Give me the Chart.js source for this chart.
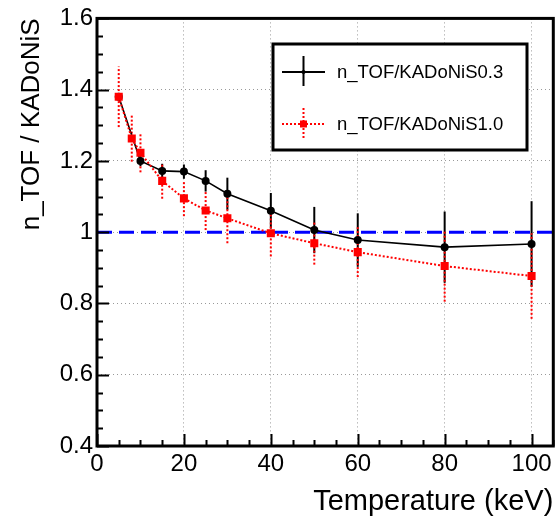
<!DOCTYPE html>
<html>
<head>
<meta charset="utf-8">
<script src="https://cdn.jsdelivr.net/npm/chart.js@4.4.1/dist/chart.umd.min.js"></script>
<style>
  html, body { margin: 0; padding: 0; background: #fff; }
  #wrap { width: 559px; height: 524px; position: relative; }
</style>
</head>
<body>
<div id="wrap"><canvas id="c"></canvas></div>
<script>
'use strict';

// n_TOF / KADoNiS 0.3 ratio and errors, temperature in keV
const KAD03_TEMPS  = [5, 10, 15, 20, 25, 30, 40, 50, 60, 80, 100];
const KAD03_VALUES = [1.38, 1.20, 1.172, 1.17, 1.144, 1.108, 1.06, 1.006, 0.978, 0.958, 0.967];
const KAD03_ERRORS = [0.0, 0.015, 0.02, 0.02, 0.03, 0.045, 0.05, 0.065, 0.075, 0.10, 0.12];

// n_TOF / KADoNiS 1.0 ratio and errors
const KAD10_TEMPS  = [5, 8, 10, 15, 20, 25, 30, 40, 50, 60, 80, 100];
const KAD10_VALUES = [1.38, 1.263, 1.223, 1.144, 1.095, 1.061, 1.039, 0.997, 0.969, 0.944, 0.905, 0.877];
const KAD10_ERRORS = [0.085, 0.065, 0.055, 0.05, 0.05, 0.055, 0.07, 0.065, 0.06, 0.07, 0.10, 0.12];

const REF_LINE_X = [0, 105];
const REF_LINE_Y = [1, 1];

const X_TICKS = [0, 20, 40, 60, 80, 100];
const X_LABELS = ['0', '20', '40', '60', '80', '100'];
const Y_TICKS = [0.4, 0.6, 0.8, 1.0, 1.2, 1.4, 1.6];
const Y_LABELS = ['0.4', '0.6', '0.8', '1', '1.2', '1.4', '1.6'];

const LEGEND_LABELS = ['n_TOF/KADoNiS0.3', 'n_TOF/KADoNiS1.0'];

const FONT = '"Liberation Sans", Arial, Helvetica, sans-serif';

function toPoints(xs, ys) {
  return xs.map((x, i) => ({ x, y: ys[i] }));
}

// vertical error bars, drawn under the markers
const errorBars = {
  id: 'errorBars',
  beforeDatasetsDraw(chart) {
    const { ctx, scales: { x, y } } = chart;
    const sets = [
      { temps: KAD03_TEMPS, vals: KAD03_VALUES, errs: KAD03_ERRORS, color: '#000', dash: [], width: 2 },
      { temps: KAD10_TEMPS, vals: KAD10_VALUES, errs: KAD10_ERRORS, color: '#ff0000', dash: [2, 2], width: 2 }
    ];
    ctx.save();
    sets.forEach(s => {
      ctx.strokeStyle = s.color;
      ctx.lineWidth = s.width;
      ctx.setLineDash(s.dash);
      s.temps.forEach((t, i) => {
        if (!s.errs[i]) return;
        const px = x.getPixelForValue(t);
        ctx.beginPath();
        ctx.moveTo(px, y.getPixelForValue(s.vals[i] - s.errs[i]));
        ctx.lineTo(px, y.getPixelForValue(s.vals[i] + s.errs[i]));
        ctx.stroke();
      });
    });
    ctx.restore();
  }
};

// ROOT-like frame with inward ticks, plus the boxed legend
const frameAndLegend = {
  id: 'frameAndLegend',
  afterDraw(chart) {
    const { ctx, chartArea: a, scales: { x, y } } = chart;
    ctx.save();
    ctx.strokeStyle = '#000';
    ctx.setLineDash([]);

    // ticks
    ctx.lineWidth = 2;
    ctx.beginPath();
    for (let v = 0; v <= 105; v += 5) {
      const px = Math.round(x.getPixelForValue(v)) + 0.5;
      const len = v % 20 === 0 ? 12 : 6;
      ctx.moveTo(px, a.bottom);
      ctx.lineTo(px, a.bottom - len);
    }
    for (let k = 0; k <= 24; k++) {
      const v = 0.4 + k * 0.05;
      const py = Math.round(y.getPixelForValue(v)) + 0.5;
      const len = k % 4 === 0 ? 12 : 6;
      ctx.moveTo(a.left, py);
      ctx.lineTo(a.left + len, py);
    }
    ctx.stroke();

    // frame
    ctx.lineWidth = 3;
    ctx.strokeRect(a.left, a.top, a.right - a.left, a.bottom - a.top);

    // legend box
    const bx = 273, by = 44, bw = 254, bh = 106;
    ctx.lineWidth = 3;
    ctx.fillStyle = '#fff';
    ctx.fillRect(bx, by, bw, bh);
    ctx.strokeRect(bx, by, bw, bh);

    const rows = [
      { y: 72, color: '#000', dash: [], label: LEGEND_LABELS[0], marker: 'circle' },
      { y: 124, color: '#ff0000', dash: [2, 2], label: LEGEND_LABELS[1], marker: 'rect' }
    ];
    rows.forEach(r => {
      ctx.strokeStyle = r.color;
      ctx.fillStyle = r.color;
      ctx.lineWidth = 2;
      ctx.setLineDash(r.dash);
      ctx.beginPath();
      ctx.moveTo(282, r.y);
      ctx.lineTo(325, r.y);
      ctx.moveTo(303.5, r.y - 16);
      ctx.lineTo(303.5, r.y + 14);
      ctx.stroke();
      ctx.setLineDash([]);
      if (r.marker === 'circle') {
        ctx.beginPath();
        ctx.arc(303.5, r.y, 2, 0, Math.PI * 2);
        ctx.fill();
      } else {
        ctx.fillRect(300, r.y - 3.5, 7, 7);
      }
      ctx.fillStyle = '#000';
      ctx.font = '18.5px ' + FONT;
      ctx.textBaseline = 'middle';
      ctx.fillText(r.label, 337, r.y + 1);
    });
    ctx.restore();
  }
};

new Chart(document.getElementById('c'), {
  type: 'scatter',
  data: {
    datasets: [
      {
        label: LEGEND_LABELS[1],
        data: toPoints(KAD10_TEMPS, KAD10_VALUES),
        showLine: true,
        borderColor: '#ff0000',
        borderWidth: 2,
        borderDash: [2, 2],
        pointStyle: 'rect',
        pointRadius: 5.7,
        pointBackgroundColor: '#ff0000',
        pointBorderWidth: 0,
        order: 0
      },
      {
        label: LEGEND_LABELS[0],
        data: toPoints(KAD03_TEMPS, KAD03_VALUES),
        showLine: true,
        borderColor: '#000',
        borderWidth: 1.6,
        pointStyle: 'circle',
        pointRadius: 4,
        pointBackgroundColor: '#000',
        pointBorderWidth: 0,
        order: 1
      },
      {
        label: 'ref',
        data: toPoints(REF_LINE_X, REF_LINE_Y),
        showLine: true,
        borderColor: '#0000ff',
        borderWidth: 3,
        borderDash: [15, 7],
        pointRadius: 0,
        order: 2
      }
    ]
  },
  options: {
    responsive: true,
    maintainAspectRatio: false,
    animation: false,
    layout: { padding: { top: 16, right: 5, left: 0, bottom: 0 } },
    plugins: { legend: { display: false }, tooltip: { enabled: false } },
    scales: {
      x: {
        type: 'linear',
        min: 0,
        max: 105,
        afterBuildTicks: (s) => { s.ticks = X_TICKS.map(v => ({ value: v })); },
        afterFit: (s) => { s.height = 78; },
        ticks: {
          color: '#000',
          font: { family: FONT, size: 24 },
          padding: 4,
          maxRotation: 0,
          callback: (v) => X_LABELS[X_TICKS.indexOf(v)]
        },
        grid: { color: '#999', lineWidth: 1, drawTicks: false },
        border: { display: false, dash: [1, 3] },
        title: {
          display: true,
          text: 'Temperature (keV)',
          align: 'end',
          color: '#000',
          font: { family: FONT, size: 29 },
          padding: { top: 0, bottom: 5 }
        }
      },
      y: {
        type: 'linear',
        min: 0.4,
        max: 1.6,
        afterBuildTicks: (s) => { s.ticks = Y_TICKS.map(v => ({ value: v })); },
        afterFit: (s) => { s.width = 97; },
        ticks: {
          color: '#000',
          font: { family: FONT, size: 24 },
          padding: 4,
          callback: (v) => Y_LABELS[Y_TICKS.findIndex(t => Math.abs(t - v) < 1e-6)]
        },
        grid: { color: '#999', lineWidth: 1, drawTicks: false },
        border: { display: false, dash: [1, 3] },
        title: {
          display: true,
          text: 'n_TOF / KADoNiS',
          align: 'end',
          color: '#000',
          font: { family: FONT, size: 26 },
          padding: { top: 16, bottom: 0 }
        }
      }
    }
  },
  plugins: [errorBars, frameAndLegend]
});
</script>
</body>
</html>
